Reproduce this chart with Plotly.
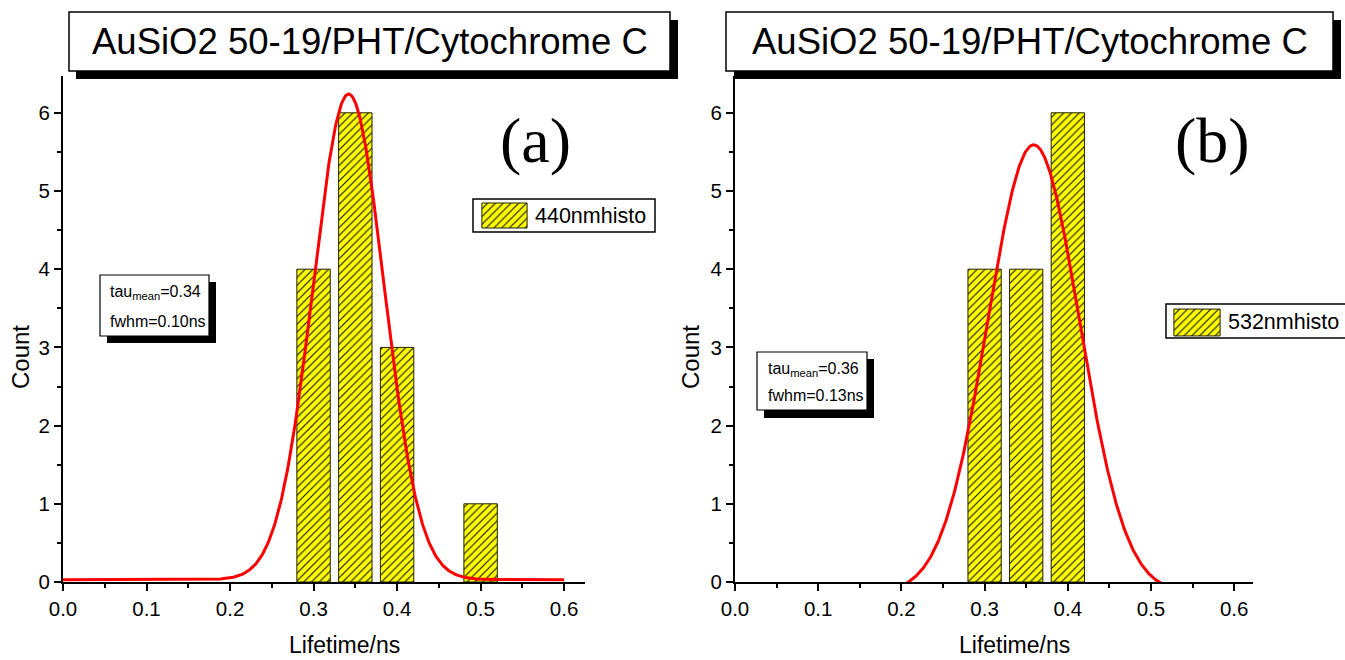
import numpy as np
import plotly.graph_objects as go

W, H = 1345, 660

# ---------------- data ----------------
title_text = "AuSiO2 50-19/PHT/Cytochrome C"

# panel (a): 440 nm lifetime histogram
bins_a = [0.30, 0.35, 0.40, 0.50]
counts_a = [4, 6, 3, 1]
label_a = "440nmhisto"
stats_a = ["tau<sub>mean</sub>=0.34", "fwhm=0.10ns"]

# panel (b): 532 nm lifetime histogram
bins_b = [0.30, 0.35, 0.40]
counts_b = [4, 4, 6]
label_b = "532nmhisto"
stats_b = ["tau<sub>mean</sub>=0.36", "fwhm=0.13ns"]

bar_width = 0.04

# Gaussian fit parameters: offset, amplitude, centre, FWHM
fit_a = dict(y0=0.03, A=6.21, xc=0.342, fwhm=0.100)
fit_b = dict(y0=-0.14, A=5.73, xc=0.359, fwhm=0.130)
fit_span = (0.0, 0.6)

legend_key = [1]

x_tickvals = [0.0, 0.1, 0.2, 0.3, 0.4, 0.5, 0.6]
y_tickvals = [0, 1, 2, 3, 4, 5, 6]

FONT = "Arial, Liberation Sans, sans-serif"


def gauss(p, x):
    return p["y0"] + p["A"] * np.exp(-4 * np.log(2) * (x - p["xc"]) ** 2 / p["fwhm"] ** 2)


def px(x):
    return x / W


def py(y):
    return 1 - y / H


fig = go.Figure()

pattern = dict(shape="/", fgcolor="black", bgcolor="#FFFF00", size=5.5, solidity=0.18)
bar_marker = dict(color="#FFFF00", line=dict(color="#202000", width=1), pattern=pattern)

xfit = np.linspace(fit_span[0], fit_span[1], 601)

for i, (bins, counts, fit) in enumerate([(bins_a, counts_a, fit_a), (bins_b, counts_b, fit_b)]):
    xa = "x" if i == 0 else "x2"
    ya = "y" if i == 0 else "y2"
    fig.add_trace(go.Bar(x=bins, y=counts, width=[bar_width] * len(bins), marker=bar_marker,
                         xaxis=xa, yaxis=ya, showlegend=False, hoverinfo="x+y"))
    fig.add_trace(go.Scatter(x=xfit, y=gauss(fit, xfit), mode="lines",
                             line=dict(color="#FF0000", width=3), xaxis=xa, yaxis=ya,
                             showlegend=False, hoverinfo="skip"))

# legend keys drawn in small auxiliary axes
for xa, ya in [("x3", "y3"), ("x4", "y4")]:
    fig.add_trace(go.Bar(x=[0], y=legend_key, width=[1], marker=bar_marker,
                         xaxis=xa, yaxis=ya, showlegend=False, hoverinfo="skip"))

axis_common = dict(showline=True, linecolor="black", linewidth=2, mirror=False,
                   ticks="outside", ticklen=7, tickwidth=1.5, tickcolor="black",
                   showgrid=False, zeroline=False, automargin=False,
                   tickfont=dict(family=FONT, size=20.5, color="black"))

xminor = dict(dtick=0.05, ticks="outside", ticklen=4, tickwidth=1.5, tickcolor="black", showgrid=False)
yminor = dict(dtick=0.5, ticks="outside", ticklen=4, tickwidth=1.5, tickcolor="black", showgrid=False)

y_dom = [py(582), py(76)]
y_rng = [0, (582 - 76) / 78.2]

hidden = dict(visible=False, automargin=False, showgrid=False, zeroline=False)

fig.update_layout(
    template="none",
    width=W, height=H, margin=dict(l=0, r=0, t=0, b=0, pad=0, autoexpand=False),
    paper_bgcolor="white", plot_bgcolor="rgba(0,0,0,0)",
    showlegend=False,
    xaxis=dict(domain=[px(63), px(585)], range=[0, 0.625], tickvals=x_tickvals, tickformat=".1f",
               minor=xminor, anchor="y", **axis_common),
    yaxis=dict(domain=y_dom, range=y_rng, tickvals=y_tickvals, minor=yminor, anchor="x",
               **axis_common),
    xaxis2=dict(domain=[px(735), px(1252.5)], range=[0, 0.622], tickvals=x_tickvals, tickformat=".1f",
                minor=xminor, anchor="y2", **axis_common),
    yaxis2=dict(domain=y_dom, range=y_rng, tickvals=y_tickvals, minor=yminor, anchor="x2",
                **axis_common),
    xaxis3=dict(domain=[px(481), px(528)], range=[-0.52, 0.52], anchor="y3", **hidden),
    yaxis3=dict(domain=[py(229), py(202)], range=[-0.04, 1.04], anchor="x3", **hidden),
    xaxis4=dict(domain=[px(1173), px(1221)], range=[-0.52, 0.52], anchor="y4", **hidden),
    yaxis4=dict(domain=[py(337), py(308)], range=[-0.04, 1.04], anchor="x4", **hidden),
)

shapes = []


def rect(x0, y0, x1, y1, fill, lw=0, layer="above"):
    d = dict(type="rect", xref="paper", yref="paper", x0=px(x0), x1=px(x1), y0=py(y1), y1=py(y0),
             fillcolor=fill, layer=layer, line=dict(color="black", width=lw))
    shapes.append(d)


# title boxes with shadow
rect(76, 20, 678, 79, "black")
rect(69, 12, 670, 71, "white", 1.5)
rect(734, 20, 1341, 79, "black")
rect(726, 12, 1333, 71, "white", 1.5)

# stats boxes with shadow
rect(107, 282, 216, 343, "black")
rect(100, 275, 209, 336, "white", 1.2)
rect(764, 359, 874, 418, "black")
rect(757, 352, 867, 410, "white", 1.2)

# legend boxes
rect(473, 199, 655, 232, "white", 1.5, layer="below")
rect(1166, 304, 1350, 338, "white", 1.5, layer="below")

fig.update_layout(shapes=shapes)

ann = []


def text(x, y, s, size, family=FONT, xanchor="center", textangle=0):
    ann.append(dict(x=px(x), y=py(y), xref="paper", yref="paper", text=s, showarrow=False,
                    xanchor=xanchor, yanchor="middle", textangle=textangle,
                    font=dict(family=family, size=size, color="black")))


text(369.5, 42, title_text, 36.5)
text(1029.5, 42, title_text, 36.5)

text(535, 140, "(a)", 64, family="Times New Roman, Liberation Serif, serif")
text(1212, 140, "(b)", 64, family="Times New Roman, Liberation Serif, serif")

text(108, 292, stats_a[0], 16, xanchor="left")
text(108, 321, stats_a[1], 16, xanchor="left")
text(766, 369, stats_b[0], 16, xanchor="left")
text(766, 395, stats_b[1], 16, xanchor="left")

text(533, 216, label_a, 21.5, xanchor="left")
text(1226, 322, label_b, 21.5, xanchor="left")

text(344, 645, "Lifetime/ns", 23)
text(1014, 645, "Lifetime/ns", 23)
text(20, 357, "Count", 24, textangle=-90)
text(690, 357, "Count", 24, textangle=-90)

fig.update_layout(annotations=ann)

fig.write_html("out.html")
